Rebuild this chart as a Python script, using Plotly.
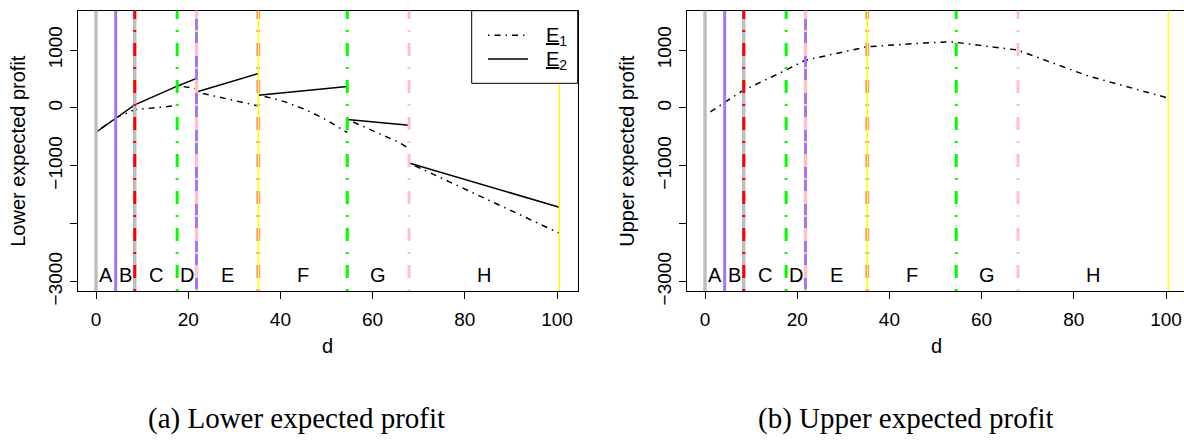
import plotly.graph_objects as go

W, H = 1184, 446

# ---------------- data ----------------
boundaries = [0, 4.27, 8.4, 17.6, 21.8, 35.2, 54.5, 67.9, 100.5]
region_labels = ["A", "B", "C", "D", "E", "F", "G", "H"]
region_label_value = -2880

lower_e1_d = [0, 4.27, 8.4, 17.6, None, 17.6, 21.8, None, 21.8, 35.2, None,
              35.2, 38.5, 41.2, 45.2, 49.2, 54.5, None, 54.5, 60, 65.6, 67.9, None, 67.9, 100.5]
lower_e1_v = [-420, -172, -31, 41, None, 387, 331, None, 275, 35, None,
              220, 163, 100, -20, -172, -423, None, -198, -395, -590, -700, None, -951, -2163]

lower_e2_d = [0, 4.27, 8.4, 17.6, 21.8, None, 21.8, 35.2, None, 35.2, 54.5, None,
              54.5, 67.9, None, 67.9, 100.5]
lower_e2_v = [-420, -172, 53, 376, 510, None, 275, 594, None, 220, 371, None,
              -198, -299, None, -951, -1716]

upper_e1_d = [0, 7.9, 17.6, 21.7, 35.1, 47.8, 53.6, 67.8, 83, 100.5]
upper_e1_v = [-130, 287, 655, 823, 1057, 1124, 1141, 1000, 555, 170]

x_ticks = [0, 20, 40, 60, 80, 100]
y_ticks = [-3000, -2000, -1000, 0, 1000]
y_tick_text = ["−3000", "", "−1000", "0", "1000"]

legend_labels = ["<u>E</u><sub>1</sub>", "<u>E</u><sub>2</sub>"]
y_titles = ["Lower expected profit", "Upper expected profit"]
captions = ["(a) Lower expected profit", "(b) Upper expected profit"]

# ---------------- styles ----------------
FONT = "Liberation Sans, Arial, sans-serif"
E1_DASH = "1.5px,5px,6px,5px"
VDASH = "2px,11px,13px,11px"
boundary_styles = [
    [("#BEBEBE", 3.5, "solid")],
    [("#9F79EE", 3, "solid")],
    [("#BEBEBE", 3.5, "solid"), ("#FF0000", 3, VDASH)],
    [("#00FF00", 3, VDASH)],
    [("#9F79EE", 3, "solid"), ("#FFC0CB", 3.5, VDASH)],
    [("#F4A0A0", 4, VDASH), ("#FF0000", 1.5, VDASH), ("#FFFF00", 1.5, "solid")],
    [("#00FF00", 3, VDASH)],
    [("#FFC0CB", 3, VDASH)],
    [("#FFFF00", 1.5, "solid")],
]


def px_x(x):
    return x / W


def px_y(y):
    return 1 - y / H


fig = go.Figure()

fig.add_trace(go.Scatter(x=lower_e1_d, y=lower_e1_v, mode="lines", xaxis="x", yaxis="y",
                         line=dict(color="black", width=1.5, dash=E1_DASH), showlegend=False))
fig.add_trace(go.Scatter(x=lower_e2_d, y=lower_e2_v, mode="lines", xaxis="x", yaxis="y",
                         line=dict(color="black", width=1.5), showlegend=False))
fig.add_trace(go.Scatter(x=upper_e1_d, y=upper_e1_v, mode="lines", xaxis="x2", yaxis="y2",
                         line=dict(color="black", width=1.5, dash=E1_DASH), showlegend=False))

shapes = []
annotations = []
mids = [(boundaries[i] + boundaries[i + 1]) / 2 for i in range(len(region_labels))]
for xr, yr in (("x", "y"), ("x2", "y2")):
    for b, layers in zip(boundaries, boundary_styles):
        for color, width, dash in layers:
            shapes.append(dict(type="line", xref=xr, yref=yr + " domain", x0=b, x1=b, y0=0, y1=1,
                               line=dict(color=color, width=width, dash=dash), layer="above"))
    for m, lab in zip(mids, region_labels):
        annotations.append(dict(x=m, y=region_label_value, xref=xr, yref=yr, text=lab, showarrow=False,
                                xanchor="center", yanchor="middle",
                                font=dict(family=FONT, size=20, color="black")))

# legend box (left panel)
shapes.append(dict(type="rect", xref="paper", yref="paper", x0=px_x(471.7), x1=px_x(577.7),
                   y0=px_y(86), y1=px_y(11), line=dict(color="black", width=1), fillcolor="white",
                   layer="above"))
shapes.append(dict(type="line", xref="paper", yref="paper", x0=px_x(488), x1=px_x(528),
                   y0=px_y(36.5), y1=px_y(36.5), line=dict(color="black", width=1.5, dash=E1_DASH)))
shapes.append(dict(type="line", xref="paper", yref="paper", x0=px_x(488), x1=px_x(528),
                   y0=px_y(61), y1=px_y(61), line=dict(color="black", width=1.5)))
for lab, yy in zip(legend_labels, (38, 62)):
    annotations.append(dict(x=px_x(544), y=px_y(yy), xref="paper", yref="paper", text=lab,
                            showarrow=False, xanchor="left", yanchor="middle",
                            font=dict(family=FONT, size=20, color="black")))

# axis titles and captions
for off, ytitle, cap in zip((0, 609), y_titles, captions):
    annotations.append(dict(x=px_x(327.7 + off), y=px_y(357), xref="paper", yref="paper", text="d",
                            showarrow=False, xanchor="center", yanchor="middle",
                            font=dict(family=FONT, size=20, color="black")))
    annotations.append(dict(x=px_x(18 + off), y=px_y(155.7), xref="paper", yref="paper", text=ytitle,
                            textangle=-90, showarrow=False, xanchor="center", yanchor="middle",
                            font=dict(family=FONT, size=20, color="black")))
    annotations.append(dict(x=px_x(296.5 + off), y=px_y(432), xref="paper", yref="paper", text=cap,
                            showarrow=False, xanchor="center", yanchor="middle",
                            font=dict(family="Liberation Serif, Times New Roman, serif", size=29,
                                      color="black")))

axis_common = dict(showgrid=False, zeroline=False, showline=True, linecolor="black", linewidth=1,
                   ticks="outside", ticklen=7, tickcolor="black", tickwidth=1,
                   tickfont=dict(family=FONT, size=19, color="black"))

fig.update_layout(
    width=W, height=H, margin=dict(l=0, r=0, t=0, b=0),
    paper_bgcolor="white", plot_bgcolor="white", showlegend=False,
    xaxis=dict(domain=[px_x(77.7), px_x(577.7)], range=[-3.97, 104.49], anchor="y", mirror=True,
               tickvals=x_ticks, ticklabelstandoff=4, **axis_common),
    yaxis=dict(domain=[px_y(300.5), px_y(11)], range=[-3164, 1681], anchor="x", mirror=True,
               tickvals=y_ticks, ticktext=y_tick_text, tickangle=-90, **axis_common),
    xaxis2=dict(domain=[px_x(686.7), 1], range=[-3.97, 103.9], anchor="y2", mirror=True,
                tickvals=x_ticks, ticklabelstandoff=4, **axis_common),
    yaxis2=dict(domain=[px_y(300.5), px_y(11)], range=[-3164, 1681], anchor="x2", mirror=False,
                tickvals=y_ticks, ticktext=y_tick_text, tickangle=-90, **axis_common),
    shapes=shapes, annotations=annotations,
)

fig.write_html("out.html", config={"displayModeBar": False},
               post_script="document.body.style.margin='0';document.body.style.overflow='hidden';")
